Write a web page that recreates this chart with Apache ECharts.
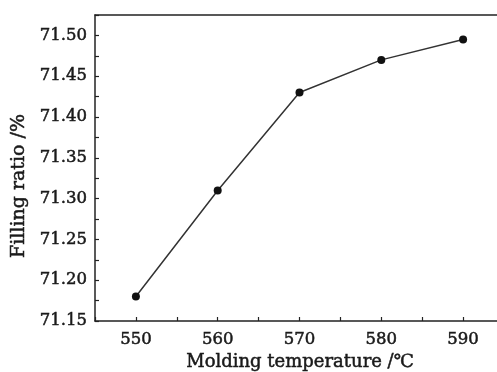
<!DOCTYPE html>
<html><head><meta charset="utf-8">
<script src="https://cdn.jsdelivr.net/npm/echarts@6/dist/echarts.min.js"></script>
<style>html,body{margin:0;padding:0;background:#fff}#c{width:497px;height:372px}</style>
</head><body><div id="c"></div>
<script>
const temperatures = [550, 560, 570, 580, 590];
const fillingRatio = [71.18, 71.31, 71.43, 71.47, 71.495];
const xName = 'Molding temperature /℃';
const yName = 'Filling ratio /%';

const FONT = 'DejaVu Serif';
const TXT = '#1a1a1a';
const chart = echarts.init(document.getElementById('c'));
const axisLine = {lineStyle: {color: '#222', width: 1.5}};
chart.setOption({
  animation: false,
  grid: {left: 95, top: 15, right: -7, bottom: 51, outerBoundsMode: 'none', containLabel: false},
  xAxis: [{
    type: 'value', min: 545, max: 595, interval: 5,
    axisLine: axisLine,
    axisTick: {inside: true, length: 4, lineStyle: {color: '#222', width: 1.2}},
    splitLine: {show: false},
    axisLabel: {
      margin: 10, color: TXT, fontFamily: FONT, fontSize: 16.5,
      textBorderColor: TXT, textBorderWidth: 0.5,
      formatter: v => (Math.round(v) % 10 === 0 && v > 545 && v < 595) ? String(v) : ''
    }
  }, {
    type: 'value', position: 'top', min: 545, max: 595,
    axisLine: axisLine, axisTick: {show: false}, axisLabel: {show: false}, splitLine: {show: false}
  }],
  yAxis: [{
    type: 'value', min: 71.15, max: 71.525, interval: 0.025,
    axisLine: axisLine,
    axisTick: {inside: true, length: 4, lineStyle: {color: '#222', width: 1.2}},
    splitLine: {show: false},
    axisLabel: {
      margin: 8, color: TXT, fontFamily: FONT, fontSize: 16.5,
      textBorderColor: TXT, textBorderWidth: 0.5,
      formatter: v => (Math.round(v * 1000) % 50 === 0 && v < 71.52) ? v.toFixed(2) : ''
    }
  }],
  series: [{
    type: 'line',
    data: temperatures.map((t, i) => [t, fillingRatio[i]]),
    symbol: 'circle', symbolSize: 8,
    lineStyle: {color: '#333', width: 1.5},
    itemStyle: {color: '#111'}
  }],
  graphic: [{
    type: 'text',
    style: {text: xName, font: '18px "DejaVu Serif"', fill: TXT, stroke: TXT, lineWidth: 0.5, textAlign: 'center', textVerticalAlign: 'middle'},
    position: [300, 362]
  }, {
    type: 'text',
    style: {text: yName, font: '19px "DejaVu Serif"', fill: TXT, stroke: TXT, lineWidth: 0.5, textAlign: 'center', textVerticalAlign: 'middle'},
    position: [19, 186], rotation: Math.PI / 2
  }]
});
</script></body></html>
